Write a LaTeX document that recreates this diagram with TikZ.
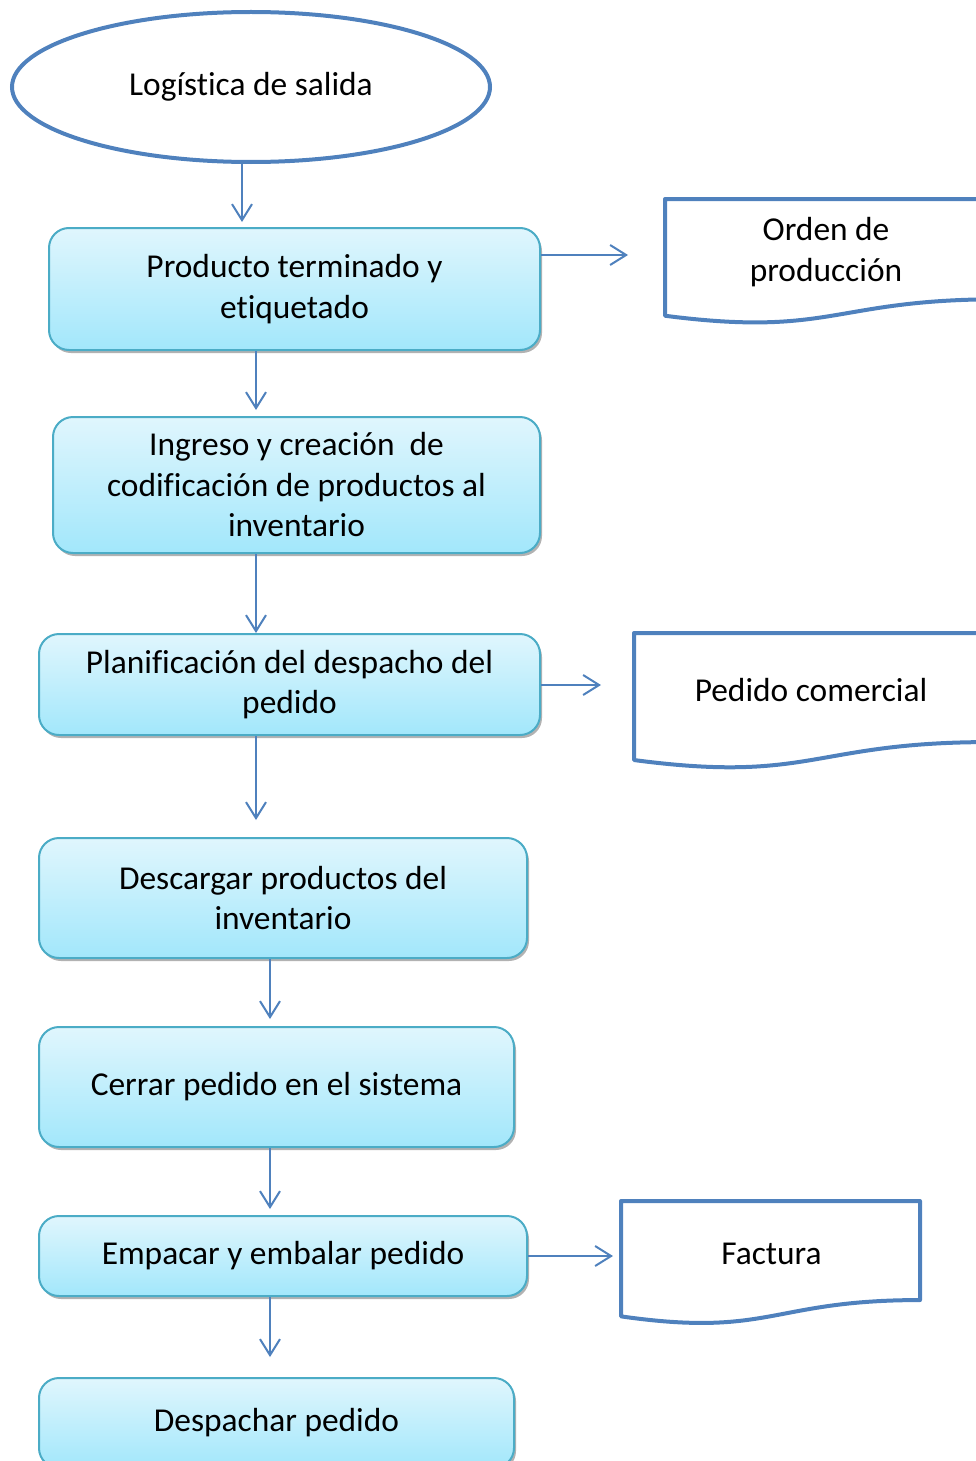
\documentclass[tikz,border=0pt]{standalone}
\usepackage{fontspec}
\setmainfont{Carlito}[Ligatures={NoCommon,NoRare}]
\usetikzlibrary{arrows.meta,shapes.geometric,shadows}
\definecolor{lineablue}{HTML}{4F81BD}
\definecolor{bordeteal}{HTML}{4BACC6}
\definecolor{topcyan}{HTML}{E0F6FD}
\definecolor{botcyan}{HTML}{A2E7FB}

% forma de documento: x izq, y sup, x der, alto
\newcommand{\docshape}[4]{%
  \draw[doc] (#1,#2) -- (#3,#2) -- (#3,{#2+0.802*#4})
    .. controls ({(#1+#3)/2},{#2+0.802*#4}) and ({(#1+#3)/2},{#2+1.1075*#4}) .. (#1,{#2+0.934*#4}) -- cycle;}

\begin{document}
\begin{tikzpicture}[x=1pt,y=-1pt,line width=2pt,
  letra/.style={font=\fontsize{33.4}{40.5}\selectfont},
  paso/.style={letra,draw=bordeteal,rounded corners=20pt,top color=topcyan,bottom color=botcyan,
    drop shadow={shadow xshift=2pt,shadow yshift=-3pt,opacity=0.3,fill=black},align=center,inner sep=0pt},
  flecha/.style={draw=lineablue,-{Straight Barb[length=16pt,width=20pt]}},
  doc/.style={draw=lineablue,line width=4pt,line join=round},
  texto/.style={letra,align=center}]
  \useasboundingbox (0,0) rectangle (976,1461);
  \clip (0,0) rectangle (976,1461);

  \node[letra,ellipse,draw=lineablue,line width=4pt,minimum width=478pt,minimum height=150pt,inner sep=0pt] (inicio) at (251,87) {Logística de salida};

  \node[paso,minimum width=491pt,minimum height=122pt] (prod)      at (294.5,289)  {Producto terminado y\\etiquetado};
  \node[paso,minimum width=487pt,minimum height=136pt] (ingreso)   at (296.5,485)  {Ingreso y creación~ de\\codificación de productos al\\inventario};
  \node[paso,minimum width=501pt,minimum height=101pt] (planif)    at (289.5,684.5){Planificación del despacho del\\pedido};
  \node[paso,minimum width=488pt,minimum height=120pt] (descargar) at (283,898)    {Descargar productos del\\inventario};
  \node[paso,minimum width=475pt,minimum height=120pt] (cerrar)    at (276.5,1087) {Cerrar pedido en el sistema};
  \node[paso,minimum width=488pt,minimum height=80pt]  (empacar)   at (283,1256)   {Empacar y embalar pedido};
  \node[paso,minimum width=475pt,minimum height=90pt]  (despachar) at (276.5,1423) {Despachar pedido};

  % documentos
  \docshape{665}{199}{1000}{125}
  \docshape{634}{633}{990}{136}
  \docshape{621}{1201}{920}{123.5}
  \node[texto] (orden)   at (826,252)  {Orden de\\producción};
  \node[texto] (pedido)  at (811,690)  {Pedido comercial};
  \node[texto] (factura) at (771.5,1254) {Factura};

  % flechas
  \coordinate (f1) at (242,222);
  \coordinate (f2) at (256,410);
  \coordinate (f3) at (256,633);
  \coordinate (f4) at (256,820);
  \coordinate (f5) at (270,1019);
  \coordinate (f6) at (270,1209);
  \coordinate (f7) at (270,1357);
  \coordinate (r1) at (628,255);
  \coordinate (r2) at (601,685);
  \coordinate (r3) at (613,1256);

  \draw[flecha] (inicio.south -| f1) -- (f1);
  \draw[flecha] (prod.south -| f2) -- (f2);
  \draw[flecha] (ingreso.south -| f3) -- (f3);
  \draw[flecha] (planif.south -| f4) -- (f4);
  \draw[flecha] (descargar.south -| f5) -- (f5);
  \draw[flecha] (cerrar.south -| f6) -- (f6);
  \draw[flecha] (empacar.south -| f7) -- (f7);
  \draw[flecha] (prod.east |- r1) -- (r1);
  \draw[flecha] (planif.east |- r2) -- (r2);
  \draw[flecha] (empacar.east |- r3) -- (r3);
\end{tikzpicture}
\end{document}
